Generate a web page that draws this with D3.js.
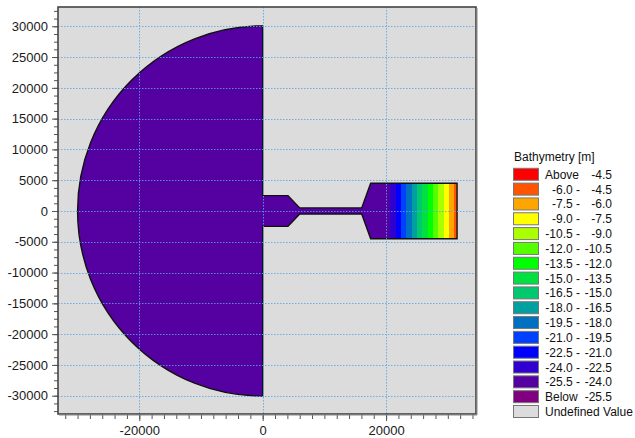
<!DOCTYPE html>
<html><head><meta charset="utf-8">
<script src="https://cdn.jsdelivr.net/npm/d3@7"></script>
<style>html,body{margin:0;background:#fff}svg{display:block;font-family:"Liberation Sans",Arial,sans-serif}</style>
</head><body><svg id="c" width="635" height="438"></svg>
<script>
const xMajor=[-20000,0,20000];
const xMinor=d3.range(-32000,34001,2000);
const yMajor=[30000,25000,20000,15000,10000,5000,0,-5000,-10000,-15000,-20000,-25000,-30000];
const yMinor=d3.range(-32500,32501,1250);
const domainRadius=30000;
const outlineX=[0,0,4100,6000,16050,17500,31500,31500,17500,16050,6000,4100,0,0];
const outlineY=[30000,2500,2500,500,500,4500,4500,-4500,-4500,-500,-500,-2500,-2500,-30000];
const bandEdges=[20630,21560,22420,23270,24150,25010,25870,26740,27600,28460,29330,30200,31050,31500];
const bandColors=["#3000d0","#0000ff","#0040ff","#0070c0","#00a0a0","#00c86e","#00e040","#00ff00","#55ff00","#aaff00","#ffff00","#ffa500","#ff5500"];
const baseColor="#5500a0";
const legendColors=["#ff0000","#ff5500","#ffa500","#ffff00","#aaff00","#55ff00","#00ff00","#00e040","#00c86e","#00a0a0","#0070c0","#0040ff","#0000ff","#3000d0","#5500a0","#800080","#dcdcdc"];
const legendLeft=["Above","-6.0 -","-7.5 -","-9.0 -","-10.5 -","-12.0 -","-13.5 -","-15.0 -","-16.5 -","-18.0 -","-19.5 -","-21.0 -","-22.5 -","-24.0 -","-25.5 -","Below","Undefined Value"];
const legendRight=["-4.5","-4.5","-6.0","-7.5","-9.0","-10.5","-12.0","-13.5","-15.0","-16.5","-18.0","-19.5","-21.0","-22.5","-24.0","-25.5",""];

const svg=d3.select("#c");
const L=58,R=476,T=7,B=414;
const x=d3.scaleLinear().domain([-33170,34570]).range([L,R]);
const y=d3.scaleLinear().domain([-32970,33130]).range([B,T]);
const fmt=d=>String(d);

svg.append("rect").attr("x",L).attr("y",T).attr("width",R-L).attr("height",B-T).attr("fill","#dcdcdc");

const outline=()=>{
  const p=d3.path();
  const r=x(0)-x(-domainRadius);
  p.moveTo(x(outlineX[0]),y(outlineY[0]));
  for(let i=1;i<outlineX.length;i++)p.lineTo(x(outlineX[i]),y(outlineY[i]));
  p.arc(x(0),y(0),r,Math.PI/2,-Math.PI/2,false);
  p.closePath();
  return p.toString();
};
svg.append("path").attr("d",outline()).attr("fill",baseColor);
svg.append("g").selectAll("rect").data(bandColors).join("rect")
  .attr("x",(d,i)=>x(bandEdges[i])).attr("width",(d,i)=>x(bandEdges[i+1])-x(bandEdges[i]))
  .attr("y",y(4500)).attr("height",y(-4500)-y(4500)).attr("fill",d=>d).attr("shape-rendering","crispEdges");
svg.append("path").attr("d",outline()).attr("fill","none").attr("stroke","#111").attr("stroke-width",1.4);

const grid=svg.append("g").attr("stroke","#5aa5ec").attr("stroke-width",1).attr("stroke-dasharray","1.5 1.5").attr("opacity",.85);
grid.selectAll(".v").data(xMajor).join("line").attr("x1",d=>Math.round(x(d))+.5).attr("x2",d=>Math.round(x(d))+.5).attr("y1",T).attr("y2",B);
grid.selectAll(".h").data(yMajor).join("line").attr("y1",d=>Math.round(y(d))+.5).attr("y2",d=>Math.round(y(d))+.5).attr("x1",L).attr("x2",R);

const ax=g=>{g.select(".domain").remove();g.selectAll("line").attr("stroke","#555");g.selectAll("text").attr("font-size",13).attr("fill","#1a1a1a").attr("font-family",'"Liberation Sans",Arial,sans-serif');};
svg.append("g").attr("transform",`translate(0,${B})`).call(d3.axisBottom(x).tickValues(xMinor).tickSize(5).tickFormat("")).call(ax);
svg.append("g").attr("transform",`translate(0,${B})`).call(d3.axisBottom(x).tickValues(xMajor).tickSize(7).tickPadding(5).tickFormat(fmt)).call(ax);
svg.append("g").attr("transform",`translate(${L},0)`).call(d3.axisLeft(y).tickValues(yMinor).tickSize(4).tickFormat("")).call(ax);
svg.append("g").attr("transform",`translate(${L},0)`).call(d3.axisLeft(y).tickValues(yMajor).tickSize(6).tickPadding(4).tickFormat(fmt)).call(ax);

svg.append("rect").attr("x",L).attr("y",T).attr("width",R-L).attr("height",B-T).attr("fill","none").attr("stroke","#444").attr("stroke-width",1.6);
svg.append("path").attr("d",`M${R+1},${T+1}V${B+1}H${L+1}`).attr("fill","none").attr("stroke","#888").attr("stroke-width",1);

svg.append("text").attr("x",514).attr("y",161).attr("font-size",12).attr("fill","#111").text("Bathymetry [m]");
const ly=d3.scalePoint().domain(d3.range(legendColors.length)).range([174.3,411.5]);
const rows=svg.append("g").selectAll("g").data(legendColors).join("g").attr("transform",(d,i)=>`translate(0,${ly(i)})`);
rows.append("rect").attr("x",513.5).attr("y",-6).attr("width",25).attr("height",12).attr("fill",d=>d).attr("stroke","#777").attr("stroke-width",1);
rows.append("text").attr("font-size",12).attr("fill","#111").attr("y",4.5)
  .attr("x",(d,i)=>(legendLeft[i]==="Above"||legendLeft[i]==="Below"||i===16)?545:580)
  .attr("text-anchor",(d,i)=>(legendLeft[i]==="Above"||legendLeft[i]==="Below"||i===16)?"start":"end")
  .text((d,i)=>legendLeft[i]);
rows.append("text").attr("font-size",12).attr("fill","#111").attr("y",4.5).attr("x",612).attr("text-anchor","end").text((d,i)=>legendRight[i]);
</script></body></html>
